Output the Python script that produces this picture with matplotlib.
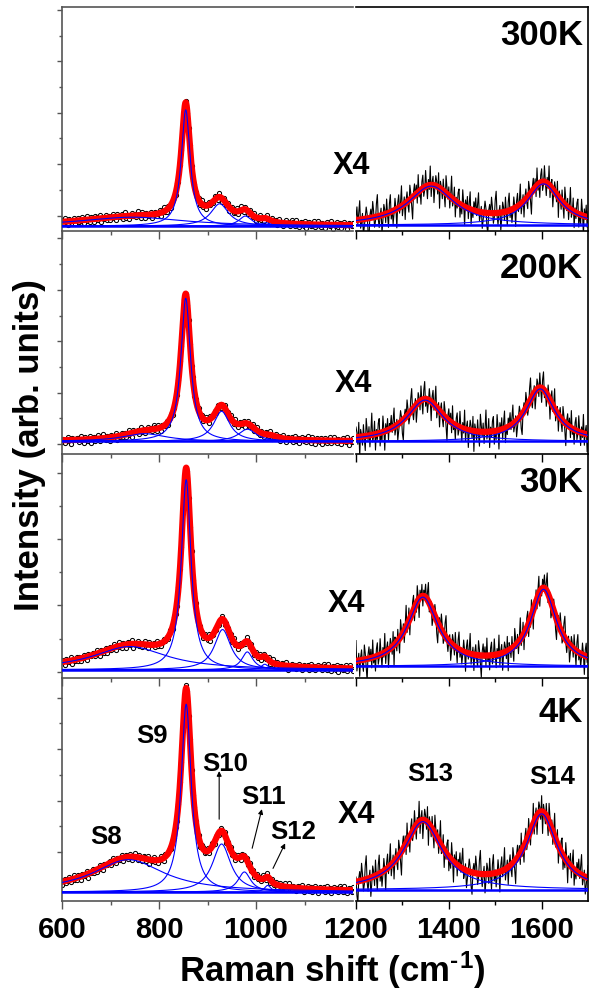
import matplotlib
matplotlib.use("Agg")
import matplotlib.pyplot as plt
import numpy as np

plt.rcParams.update({
    "font.family": ["Liberation Sans", "DejaVu Sans"],
    "font.weight": "bold",
    "mathtext.default": "regular",
})

# sample temperatures, top panel to bottom panel
temperatures = ["300K", "200K", "30K", "4K"]

# 600-1200 cm-1 window: flat background + Lorentzian bands S8..S12
# each band is (centre cm-1, FWHM cm-1, height)
left_background = [2.0, 5.7, 3.6, 4.2]
left_bands = [
    [(745, 260, 4.0), (855, 22, 52.0), (925, 45, 10.0), (978, 32, 4.5), (1020, 25, 1.5)],
    [(770, 110, 3.5), (855, 24, 64.0), (929, 40, 13.5), (982, 45, 5.5), (1030, 30, 1.0)],
    [(740, 185, 10.4), (856, 24, 85.0), (931, 41, 18.0), (982, 28, 8.0), (1018, 18, 2.5)],
    [(737, 178, 14.5), (856, 25, 84.0), (929, 46, 21.5), (976, 32, 9.0), (1024, 16, 3.0)],
]

# 1200-1700 cm-1 window (shown x4): background + S13, S14
right_background = [2.4, 5.7, 5.1, 5.2]
right_bands = [
    [(1362, 120, 17.5), (1604, 85, 18.5)],
    [(1349, 95, 18.5), (1597, 75, 23.5)],
    [(1344, 80, 31.0), (1604, 68, 34.5)],
    [(1344, 100, 30.5), (1600, 80, 34.0)],
]

left_residuals = [0.4, -0.6, 0.9, -0.2, -0.8, 0.5, 0.1, -0.4, 0.7, -0.9, 0.3, 0.6,
                  -0.5, -0.1, 0.8, -0.7, 0.2, 1.0, -0.3, -0.6, 0.5, 0.0, -0.8, 0.6,
                  0.3, -0.4, 0.9, -1.0, 0.2, -0.2, 0.7, -0.5, 0.4, -0.7, 0.1, 0.8,
                  -0.3, -0.9, 0.6, 0.2, -0.1, 0.5, -0.6, 0.9, -0.4, 0.3, -0.8, 0.0,
                  0.7, -0.2, 0.4, -0.5, 1.0]
right_residuals = [0.2, 0.9, -0.3, 0.5, 1.3, -0.6, -0.2, 0.4, -1.1, -0.5, 0.1, 0.8,
                   0.3, -0.9, -1.4, 0.2, 0.6, -0.1, 1.1, 0.4, -0.7, -0.3, 0.9, 1.5,
                   -0.2, -0.8, 0.0, 0.5, -1.2, -0.4, 0.7, 0.3, -0.6, 1.0, -0.1, -1.0,
                   0.6, 1.2, -0.5, 0.2, -0.9, -0.2, 0.8, 0.1, -1.3, 0.4, 0.9, -0.4,
                   0.3, 1.4, -0.7, -0.1, 0.5, -1.1, 0.2, 0.7, -0.3, -0.8, 1.0, 0.4,
                   -0.5, -1.5, 0.3, 0.8, -0.2, 0.6, -0.7, 1.2, -0.4, 0.1, -1.0, 0.5,
                   0.9, -0.6, -0.2, 1.1, 0.0, -0.9, 0.4, -0.3, 1.3, -0.8, 0.2, 0.6,
                   -1.2, -0.1, 0.7, 0.3, -0.5, 1.0, -1.4, 0.5, 0.1, -0.6, 0.8, -0.2,
                   -1.0, 1.2, 0.4, -0.3, 0.6, -0.8, 0.2, 1.5, -0.5, -0.1, 0.9, -1.1,
                   0.3, -0.4, 0.7, 1.0, -0.9, 0.0, -0.6, 1.1, 0.2, -1.3, 0.5, -0.2,
                   0.8, -0.7, 0.4, 1.2, -1.0, 0.1, -0.5, 0.6]
left_scatter = [1.8, 1.8, 1.7, 1.8]
right_scatter = [6.5, 6.5, 6.5, 7.0]

# band labels in the 4K panel
band_names_left = ["S8", "S9", "S10", "S11", "S12"]
band_names_right = ["S13", "S14"]


def lorentz(x, centre, fwhm, height):
    return height / (1 + ((x - centre) / (fwhm / 2)) ** 2)


def total(x, background, bands):
    y = np.full_like(x, background, dtype=float)
    for c, w, h in bands:
        y += lorentz(x, c, w, h)
    return y


fig = plt.figure(figsize=(5.89, 9.97), dpi=100)

panel_top = 0.993
panel_h = 0.2243
left_x, left_w = 0.1053, 0.4941
right_x, right_w = 0.6044, 0.3940
grey = "#555555"

# label placement (data / axes coords)
x4_pos = [(1197, 25.1), (1201, 27.8), (1186, 29.6), (1207, 35.0)]
temp_y = [0.830, 0.790, 0.830, 0.802]
left_label_pos = [(691, 25.6), (786, 70.9), (936, 58.3), (1016, 43.5), (1076, 27.8)]
right_label_pos = [(1360, 53.8), (1622, 52.5)]
arrows = [((924, 36.8), (924, 58.3)), ((992, 23.8), (1012, 41.3)), ((1035, 14.8), (1060, 26.0))]
ytick_start = [6.7, 4.5, 2.8, 22.1]
ytick_step = [23.0, 23.0, 29.6, 23.0]

xf_left = np.linspace(600, 1200, 1201)
xf_right = np.linspace(1200, 1700, 1001)
xd_left = np.arange(600, 1201, 3)
xd_right = np.arange(1200, 1701, 2)

for i, temp in enumerate(temperatures):
    bottom = panel_top - (i + 1) * panel_h
    axl = fig.add_axes([left_x, bottom, left_w, panel_h])
    axr = fig.add_axes([right_x, bottom, right_w, panel_h])
    for ax in (axl, axr):
        ax.set_facecolor("none")
        ax.set_ylim(0, 100)

    # left window
    bg = left_background[i]
    noise = np.roll(np.resize(left_residuals, len(xd_left)), 11 * i)
    measured = total(xd_left, bg, left_bands[i]) + noise * left_scatter[i]
    axl.plot(xd_left, measured, "o", ms=3.0, mfc="white", mec="black", mew=0.75, zorder=1)
    axl.plot(xf_left, total(xf_left, bg, left_bands[i]), color="red", lw=4.5, zorder=2)
    for c, w, h in left_bands[i]:
        axl.plot(xf_left, bg + lorentz(xf_left, c, w, h), color="blue", lw=0.8, zorder=3)
    axl.plot([600, 1200], [bg, bg], color="blue", lw=1.8, zorder=3)
    axl.set_xlim(600, 1200)

    # right window (x4)
    bg = right_background[i]
    noise = np.roll(np.resize(right_residuals, len(xd_right)), 37 * i)
    measured = total(xd_right, bg, right_bands[i]) + noise * right_scatter[i]
    axr.plot(xd_right, measured, color="black", lw=0.8, zorder=1)
    axr.plot(xf_right, total(xf_right, bg, right_bands[i]), color="red", lw=4.5, zorder=2)
    for c, w, h in right_bands[i]:
        axr.plot(xf_right, bg + lorentz(xf_right, c, w, h), color="blue", lw=0.8, zorder=3)
    axr.plot([1200, 1700], [bg, bg], color="blue", lw=1.8, zorder=3)
    axr.set_xlim(1200, 1700)

    # axes styling
    axl.spines["right"].set_visible(False)
    axr.spines["left"].set_visible(False)
    if i > 0:
        axl.spines["top"].set_visible(False)
        axr.spines["top"].set_visible(False)
    for s in axl.spines.values():
        s.set_color(grey)
        s.set_linewidth(1.2)
    for s in axr.spines.values():
        s.set_linewidth(1.2)

    axl.set_xticks([600, 800, 1000])
    axl.set_xticks([700, 900, 1100], minor=True)
    axr.set_xticks([1200, 1400, 1600])
    axr.set_xticks([1300, 1500], minor=True)
    majors = np.arange(ytick_start[i], 100, ytick_step[i])
    axl.set_yticks(majors)
    axl.set_yticks(np.arange(ytick_start[i] + ytick_step[i] / 2, 100, ytick_step[i]), minor=True)

    last = i == len(temperatures) - 1
    for ax, col in ((axl, grey), (axr, "black")):
        ax.tick_params(axis="x", which="major", direction="out", length=5.5, width=1,
                       color=col, pad=5, labelsize=21, labelbottom=last)
        ax.tick_params(axis="x", which="minor", direction="out", length=3, width=1, color=col)
    axl.tick_params(axis="y", which="major", direction="out", length=3.5, width=1,
                    color=grey, labelleft=False)
    axl.tick_params(axis="y", which="minor", direction="out", length=2, width=1, color=grey)
    axr.tick_params(axis="y", which="both", left=False, right=False, labelleft=False)

    axl.text(x4_pos[i][0], x4_pos[i][1], "X4", ha="center", va="baseline",
             fontsize=22, fontweight="bold", zorder=5)
    axr.text(0.978, temp_y[i], temp, transform=axr.transAxes, ha="right",
             va="baseline", fontsize=25, fontweight="bold")

    if last:
        for name, (x, y) in zip(band_names_left, left_label_pos):
            axl.text(x, y, name, ha="center", va="baseline", fontsize=18.5, fontweight="bold")
        for name, (x, y) in zip(band_names_right, right_label_pos):
            axr.text(x, y, name, ha="center", va="baseline", fontsize=18.5, fontweight="bold")
        for tail, head in arrows:
            axl.annotate("", xy=head, xytext=tail,
                         arrowprops=dict(arrowstyle="-|>", lw=0.8, color="black",
                                         mutation_scale=7, shrinkA=0, shrinkB=0))

fig.text(332 / 589, 1 - 970 / 997, "Raman shift (cm$^{\u2010}$$^{1}$)", ha="center", va="center",
         fontsize=25, fontweight="bold")
fig.text(30 / 589, 1 - 445 / 997, "Intensity (arb. units)", ha="center", va="center",
         rotation=90, fontsize=25, fontweight="bold")

fig.savefig("out.png", dpi=100)
